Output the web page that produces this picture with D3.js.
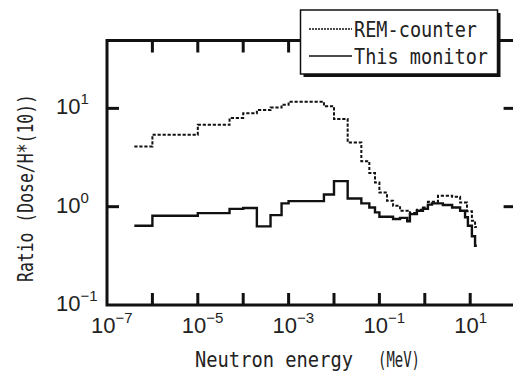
<!DOCTYPE html>
<html>
<head>
<meta charset="utf-8">
<script src="https://cdn.jsdelivr.net/npm/d3@7"></script>
<style>
  body { margin: 0; background: #fff; }
  svg { display: block; }
</style>
</head>
<body>
<script>
// energy bin lower edges (MeV) and ratio values, step histogram
var remEdges = [4e-7, 1e-6, 1e-5, 5e-5, 1e-4, 2e-4, 4e-4, 7e-4, 1e-3, 6e-3, 1e-2, 2e-2, 4e-2, 6e-2, 8e-2,
                0.1, 0.147, 0.2, 0.285, 0.47, 0.67, 0.91, 1.17, 1.95, 4.0, 6.0, 8.5, 10.9, 12.8]
var remValues = [4.1, 5.4, 6.8, 8.0, 8.9, 9.6, 10.2, 10.9, 11.7, 10.5, 7.8, 4.5, 2.9, 2.2, 1.76,
                 1.39, 1.15, 1.02, 0.91, 0.86, 0.93, 0.98, 1.12, 1.29, 1.26, 1.1, 0.9, 0.72, 0.62]
var remEnd = 14

var monEdges = [4e-7, 1e-6, 1e-5, 5e-5, 1e-4, 2e-4, 4e-4, 7e-4, 1e-3, 6e-3, 1e-2, 2e-2, 4e-2, 6e-2, 8e-2,
                0.1, 0.2, 0.285, 0.41, 0.47, 0.67, 0.91, 1.17, 1.44, 2.5, 4.0, 6.0, 7.7, 8.9, 10.9, 12.8]
var monValues = [0.64, 0.81, 0.86, 0.95, 0.97, 0.63, 0.82, 1.08, 1.14, 1.33, 1.82, 1.21, 1.08, 0.98, 0.875,
                 0.79, 0.75, 0.77, 0.71, 0.84, 0.91, 0.95, 1.05, 1.08, 1.04, 0.98, 0.91, 0.78, 0.64, 0.5, 0.4]
var monEnd = 14

var xTicks = [1e-7, 1e-6, 1e-5, 1e-4, 1e-3, 1e-2, 1e-1, 1e0, 1e1, 1e2]
var xLabels = [[1e-7, "\u22127"], [1e-5, "\u22125"], [1e-3, "\u22123"], [1e-1, "\u22121"], [1e1, "1"]]
var yTicks = [1e0, 1e1]
var yLabels = [[1e1, "1"], [1e0, "0"], [1e-1, "\u22121"]]
var legendNames = ["REM-counter", "This monitor"]

var width = 513, height = 374
var svg = d3.select("body").append("svg")
    .attr("width", width)
    .attr("height", height)
    .style("background", "#fff")

var x = d3.scaleLog().domain([1e-7, 1e2]).range([107, 515.6])
var y = d3.scaleLog().domain([0.1, 49]).range([305, 40.5])

var tickFont = "'Liberation Sans Narrow','Arial Narrow','Liberation Sans',sans-serif"
var monoFont = "'DejaVu Sans Mono','Liberation Mono',monospace"

// curves
function steps(edges, values, end) {
    var pts = edges.map(function (e, i) { return [e, values[i]] })
    pts.push([end, values[values.length - 1]])
    return pts
}
var line = d3.line()
    .x(function (d) { return x(d[0]) })
    .y(function (d) { return y(d[1]) })
    .curve(d3.curveStepAfter)

svg.append("path")
    .attr("d", line(steps(remEdges, remValues, remEnd)))
    .attr("fill", "none")
    .attr("stroke", "#111")
    .attr("stroke-width", 2)
    .attr("stroke-dasharray", "3.2,1.8")

svg.append("path")
    .attr("d", line(steps(monEdges, monValues, monEnd)))
    .attr("fill", "none")
    .attr("stroke", "#111")
    .attr("stroke-width", 2.4)

// frame
svg.append("rect")
    .attr("x", x(1e-7)).attr("y", y(49))
    .attr("width", x(1e2) - x(1e-7))
    .attr("height", y(0.1) - y(49))
    .attr("fill", "none")
    .attr("stroke", "#111")
    .attr("stroke-width", 3)

// ticks, all pointing inward
var tk = svg.append("g").attr("stroke", "#111").attr("stroke-width", 3)
tk.selectAll(".xb").data(xTicks.slice(1, -1)).enter().append("line")
    .attr("x1", d => x(d)).attr("x2", d => x(d))
    .attr("y1", y(0.1)).attr("y2", y(0.1) - 12)
tk.selectAll(".xt").data(xTicks.slice(1, -1)).enter().append("line")
    .attr("x1", d => x(d)).attr("x2", d => x(d))
    .attr("y1", y(49)).attr("y2", y(49) + 12)
tk.selectAll(".yl").data(yTicks).enter().append("line")
    .attr("x1", x(1e-7)).attr("x2", x(1e-7) + 12)
    .attr("y1", d => y(d)).attr("y2", d => y(d))
tk.selectAll(".yr").data(yTicks).enter().append("line")
    .attr("x1", x(1e2)).attr("x2", x(1e2) - 12)
    .attr("y1", d => y(d)).attr("y2", d => y(d))

// tick labels
var xl = svg.selectAll(".xlab").data(xLabels).enter().append("text")
    .attr("x", d => x(d[0]) - 16)
    .attr("y", 333)
    .attr("font-family", tickFont)
    .attr("font-size", 22)
    .attr("fill", "#222")
xl.append("tspan").text("10")
xl.append("tspan").attr("dy", -10).attr("font-size", 15).text(d => d[1])

var yl = svg.selectAll(".ylab").data(yLabels).enter().append("text")
    .attr("x", 56)
    .attr("y", d => y(d[0]) + 6)
    .attr("font-family", tickFont)
    .attr("font-size", 22)
    .attr("fill", "#222")
yl.append("tspan").text("10")
yl.append("tspan").attr("dy", -10).attr("font-size", 15).text(d => d[1])

// axis titles
svg.append("text")
    .attr("x", 195).attr("y", 367)
    .attr("font-family", monoFont).attr("font-size", 22)
    .attr("textLength", 158).attr("lengthAdjust", "spacingAndGlyphs")
    .attr("fill", "#222")
    .text("Neutron energy")
svg.append("text")
    .attr("x", 378).attr("y", 367)
    .attr("font-family", monoFont).attr("font-size", 22)
    .attr("textLength", 42).attr("lengthAdjust", "spacingAndGlyphs")
    .attr("fill", "#222")
    .text("(MeV)")

svg.append("text")
    .attr("transform", "translate(33,188) rotate(-90)")
    .attr("text-anchor", "middle")
    .attr("font-family", monoFont).attr("font-size", 21)
    .attr("textLength", 188).attr("lengthAdjust", "spacingAndGlyphs")
    .attr("fill", "#222")
    .text("Ratio (Dose/H*(10))")

// legend box with drop shadow
var lg = svg.append("g")
lg.append("rect")
    .attr("x", 303.5).attr("y", 13)
    .attr("width", 197).attr("height", 64)
    .attr("fill", "#111")
lg.append("rect")
    .attr("x", 300.5).attr("y", 10)
    .attr("width", 197).attr("height", 64)
    .attr("fill", "#fff")
    .attr("stroke", "#111")
    .attr("stroke-width", 1.5)
lg.append("line")
    .attr("x1", 309).attr("x2", 352).attr("y1", 29).attr("y2", 29)
    .attr("stroke", "#111").attr("stroke-width", 1.5)
    .attr("stroke-dasharray", "2,1")
lg.append("line")
    .attr("x1", 309).attr("x2", 352).attr("y1", 56).attr("y2", 56)
    .attr("stroke", "#111").attr("stroke-width", 1.5)
lg.selectAll(".lt").data(legendNames).enter().append("text")
    .attr("x", 354)
    .attr("y", (d, i) => i ? 64 : 37)
    .attr("font-family", monoFont).attr("font-size", 22)
    .attr("textLength", (d, i) => i ? 134 : 123)
    .attr("lengthAdjust", "spacingAndGlyphs")
    .attr("fill", "#222")
    .text(d => d)
</script>
</body>
</html>
